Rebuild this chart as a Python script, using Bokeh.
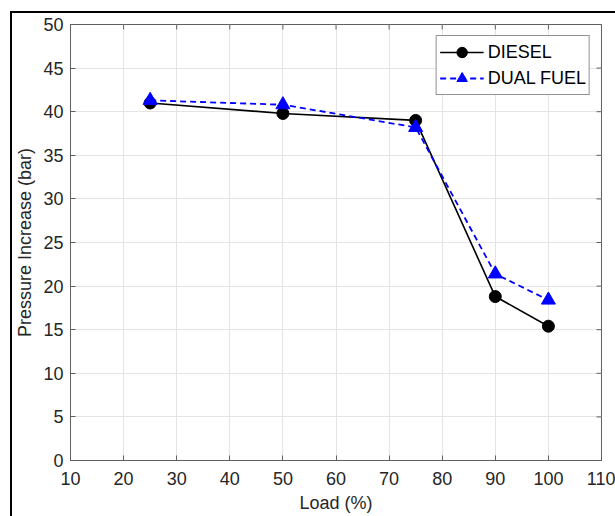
import math
from bokeh.plotting import figure
from bokeh.models import Range1d, FixedTicker, Legend, LegendItem
from bokeh.embed import file_html
from bokeh.resources import INLINE

# Data
load = [25, 50, 75, 90, 100]
diesel = [41.0, 39.8, 39.0, 18.8, 15.4]
dual_fuel = [41.3, 40.8, 38.2, 21.4, 18.4]

x_ticks = [10, 20, 30, 40, 50, 60, 70, 80, 90, 100, 110]
y_ticks = [0, 5, 10, 15, 20, 25, 30, 35, 40, 45, 50]
x_lim = (10, 110)
y_lim = (0, 50)

FONT = "Liberation Sans"
AX = "#606060"
TXT = "#262626"

p = figure(frame_width=531, frame_height=436,
           x_range=Range1d(*x_lim), y_range=Range1d(*y_lim),
           output_backend="svg", toolbar_location=None,
           min_border_left=57, min_border_top=11,
           min_border_right=14, min_border_bottom=56)
p.margin = (11, 0, 0, 10)
p.styles = {"border-left": "2px solid black", "border-top": "2px solid black"}

p.background_fill_color = "white"
p.border_fill_color = "white"
p.outline_line_color = AX
p.outline_line_width = 1

for ax in (p.xaxis[0], p.yaxis[0]):
    ax.axis_line_color = AX
    ax.major_tick_line_color = AX
    ax.major_tick_in = 5
    ax.major_tick_out = 0
    ax.minor_tick_line_color = None
    ax.major_label_text_font = FONT
    ax.major_label_text_font_size = "18px"
    ax.major_label_text_color = TXT
    ax.axis_label_text_font = FONT
    ax.axis_label_text_font_size = "18px"
    ax.axis_label_text_font_style = "normal"
    ax.axis_label_text_color = TXT

p.xaxis[0].ticker = FixedTicker(ticks=x_ticks)
p.yaxis[0].ticker = FixedTicker(ticks=y_ticks)
p.xaxis[0].axis_label = "Load (%)"
p.yaxis[0].axis_label = "Pressure Increase (bar)"
p.xaxis[0].major_label_standoff = 11
p.yaxis[0].major_label_standoff = 7
p.xaxis[0].axis_label_standoff = 5
p.yaxis[0].axis_label_standoff = 5

# inward ticks on top and right edges (box on)
p.scatter(x_ticks, [y_lim[1]] * len(x_ticks), marker="dash", angle=math.pi / 2,
          size=10, line_color=AX, line_width=1)
p.scatter([x_lim[1]] * len(y_ticks), y_ticks, marker="dash",
          size=10, line_color=AX, line_width=1)

p.xgrid.ticker = FixedTicker(ticks=x_ticks)
p.ygrid.ticker = FixedTicker(ticks=y_ticks)
p.xgrid.grid_line_color = "#e4e4e4"
p.ygrid.grid_line_color = "#e4e4e4"

l1 = p.line(load, diesel, line_color="black", line_width=1.6)
s1 = p.scatter(load, diesel, marker="circle", size=12, fill_color="black", line_color="black")
l2 = p.line(load, dual_fuel, line_color="blue", line_width=1.8, line_dash="6 4")
s2 = p.scatter(load, dual_fuel, marker="triangle", size=14, fill_color="blue", line_color="blue")

legend = Legend(items=[LegendItem(label="DIESEL", renderers=[l1, s1]),
                       LegendItem(label="DUAL FUEL", renderers=[l2, s2])],
                location="top_right")
legend.margin = 11
legend.padding = 3
legend.spacing = -5
legend.glyph_width = 44
legend.glyph_height = 26
legend.label_height = 20
legend.label_standoff = 4
legend.label_text_font = FONT
legend.label_text_font_size = "18px"
legend.label_text_color = "black"
legend.border_line_color = "#262626"
legend.border_line_width = 1
legend.background_fill_color = "white"
legend.background_fill_alpha = 1.0
p.add_layout(legend)

open("out.html", "w").write(file_html(p, INLINE))
